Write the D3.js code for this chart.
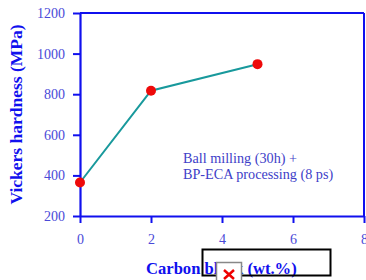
<!DOCTYPE html>
<html><head><meta charset="utf-8">
<script src="https://cdn.jsdelivr.net/npm/d3@7"></script>
<style>html,body{margin:0;padding:0;background:#fff;}svg{display:block;}</style>
</head><body>
<svg id="c" width="366" height="280"></svg>
<script>
const carbon = [0, 2, 5];
const hardness = [365, 817, 948];
const xTicks = [0, 2, 4, 6, 8];
const yTicks = [200, 400, 600, 800, 1000, 1200];
const noteLines = ["Ball milling (30h) +", "BP-ECA processing (8 ps)"];
const xTitle = "Carbon black (wt.%)";
const yTitle = "Vickers hardness (MPa)";

const svg = d3.select("#c");
const L = 80, R = 364, T = 13, B = 216;
const x = d3.scaleLinear().domain([0, 8]).range([L, R]);
const y = d3.scaleLinear().domain([200, 1200]).range([B, T]);
const blue = "#1010ee", tickCol = "#4a4ad8", font = "'Liberation Serif','Times New Roman',serif";

// frame top & right
svg.append("line").attr("x1", L).attr("x2", R).attr("y1", T).attr("y2", T).attr("stroke", blue).attr("stroke-width", 2);
svg.append("line").attr("x1", R).attr("x2", R).attr("y1", T).attr("y2", B).attr("stroke", blue).attr("stroke-width", 2);

const xAxis = svg.append("g").attr("transform", `translate(0,${B})`)
  .call(d3.axisBottom(x).tickValues(xTicks).tickFormat(d3.format("d")).tickSize(7).tickPadding(11).tickSizeOuter(0));
const yAxis = svg.append("g").attr("transform", `translate(${L},0)`)
  .call(d3.axisLeft(y).tickValues(yTicks).tickFormat(d3.format("d")).tickSize(7).tickPadding(8).tickSizeOuter(0));
[xAxis, yAxis].forEach(g => {
  g.select(".domain").attr("stroke", blue).attr("stroke-width", 2.2);
  g.selectAll(".tick line").attr("stroke", blue).attr("stroke-width", 2);
  g.selectAll(".tick text").attr("fill", tickCol)
    .style("font-family", font).style("font-size", "14px");
});

// data line
svg.append("path").datum(carbon.map((c, i) => [c, hardness[i]]))
  .attr("d", d3.line().x(d => x(d[0])).y(d => y(d[1])))
  .attr("fill", "none").attr("stroke", "#18999c").attr("stroke-width", 2);
svg.selectAll("circle.pt").data(carbon).enter().append("circle")
  .attr("cx", (d) => x(d)).attr("cy", (d, i) => y(hardness[i])).attr("r", 5).attr("fill", "#ee0a0a");

// note
svg.append("text").style("font-family", font).attr("font-size", 14.2).attr("fill", "#4040c8")
  .selectAll("tspan").data(noteLines).enter().append("tspan")
  .attr("x", 183).attr("y", (d, i) => 163 + i * 16).text(d => d);

// axis titles
svg.append("text").attr("x", 146).attr("y", 274)
  .style("font-family", font).attr("font-weight", "bold").attr("font-size", 16.6).attr("fill", blue).text(xTitle);
svg.append("text").attr("transform", "translate(22,114.5) rotate(-90)").attr("text-anchor", "middle")
  .style("font-family", font).attr("font-weight", "bold").attr("font-size", 17.5).attr("fill", blue).text(yTitle);

// broken image placeholder overlay
svg.append("rect").attr("x", 202.5).attr("y", 249.5).attr("width", 128).attr("height", 26).attr("fill", "none").attr("stroke", "#000").attr("stroke-width", 2);
svg.append("rect").attr("x", 216.5).attr("y", 262.5).attr("width", 25).attr("height", 20).attr("fill", "#fff").attr("stroke", "#888").attr("stroke-width", 1.5);
svg.append("path").attr("d", "M224,270 L234,279 M234,270 L224,279").attr("stroke", "#e00").attr("stroke-width", 2.5);
</script>
</body></html>
